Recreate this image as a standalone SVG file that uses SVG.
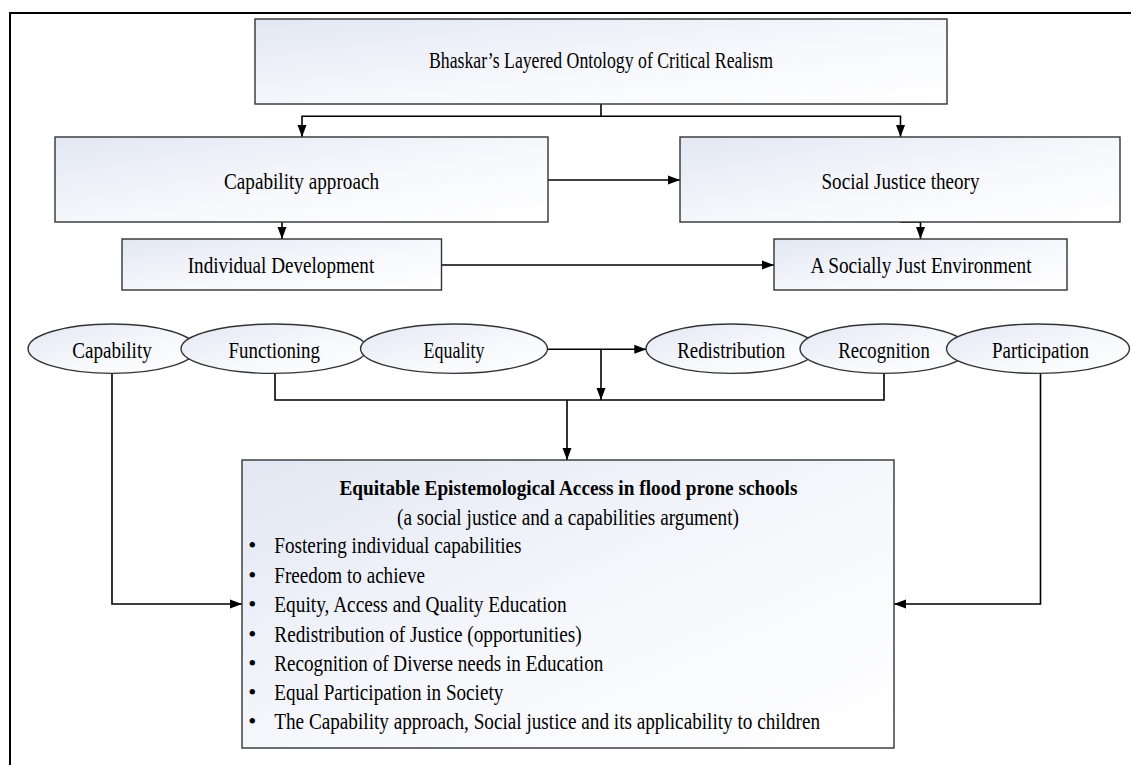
<svg xmlns="http://www.w3.org/2000/svg" width="1131" height="765" viewBox="0 0 1131 765">
<defs>
<linearGradient id="g" x1="0" y1="0" x2="1" y2="1">
<stop offset="0" stop-color="#e2e7f3"/>
<stop offset="0.55" stop-color="#f7f8fc"/>
<stop offset="1" stop-color="#ffffff"/>
</linearGradient>
<marker id="ah" viewBox="0 0 12 10" refX="12" refY="5" markerWidth="12" markerHeight="10" markerUnits="userSpaceOnUse" orient="auto">
<path d="M0,0.5 L12,5 L0,9.5 z" fill="#000"/>
</marker>
<style>
.box{fill:url(#g);stroke:#333;stroke-width:1.4}
.t{font-family:"Liberation Serif","Times New Roman",serif;font-size:23px;fill:#000}
.c{text-anchor:middle}
.b{font-weight:bold;font-size:22px}
.ln{fill:none;stroke:#000;stroke-width:1.6}
.ar{marker-end:url(#ah)}
.frame{fill:none;stroke:#000;stroke-width:2}
</style>
</defs>
<rect width="1131" height="765" fill="#fff"/>
<path class="frame" d="M10,765 V13 H1131"/>

<g id="connectors">
<path class="ln" d="M601,104 V116.3"/>
<path class="ln ar" d="M601,116.3 H302 V137"/>
<path class="ln ar" d="M601,116.3 H900.5 V137"/>
<path class="ln ar" d="M548,180 H680"/>
<path class="ln ar" d="M282,222 V239"/>
<path class="ln ar" d="M900.5,222 H920.5 V239"/>
<path class="ln ar" d="M441.5,265 H774"/>
<path class="ln ar" d="M547.5,349.3 H646.3"/>
<path class="ln ar" d="M601,349.3 V400"/>
<path class="ln" d="M275,373.4 V400 H884 V373.4"/>
<path class="ln ar" d="M567,400 V460"/>
<path class="ln ar" d="M112,373.4 V604 H242"/>
<path class="ln ar" d="M1040.5,373.4 V604 H894"/>
</g>

<g id="bhaskar">
<rect class="box" x="255" y="19" width="692" height="85"/>
<text class="t c" x="601" y="68" textLength="344" lengthAdjust="spacingAndGlyphs">Bhaskar’s Layered Ontology of Critical Realism</text>
</g>
<g id="capability-approach">
<rect class="box" x="55" y="137" width="493" height="85"/>
<text class="t c" x="301.5" y="188.5" textLength="155" lengthAdjust="spacingAndGlyphs">Capability approach</text>
</g>
<g id="social-justice-theory">
<rect class="box" x="680" y="137" width="440" height="85"/>
<text class="t c" x="900.5" y="188.5" textLength="158" lengthAdjust="spacingAndGlyphs">Social Justice theory</text>
</g>
<g id="individual-development">
<rect class="box" x="122" y="239" width="319.5" height="51"/>
<text class="t c" x="281" y="273" textLength="186.5" lengthAdjust="spacingAndGlyphs">Individual Development</text>
</g>
<g id="socially-just-environment">
<rect class="box" x="774" y="239" width="293" height="51"/>
<text class="t c" x="921" y="273" textLength="221" lengthAdjust="spacingAndGlyphs">A Socially Just Environment</text>
</g>

<g id="capability">
<ellipse class="box" cx="112" cy="348.7" rx="84" ry="24.7"/>
<text class="t c" x="112" y="357.5" textLength="79.5" lengthAdjust="spacingAndGlyphs">Capability</text>
</g>
<g id="functioning">
<ellipse class="box" cx="274" cy="348.7" rx="93" ry="24.7"/>
<text class="t c" x="274.3" y="357.5" textLength="91.4" lengthAdjust="spacingAndGlyphs">Functioning</text>
</g>
<g id="equality">
<ellipse class="box" cx="454" cy="348.7" rx="93.5" ry="24.7"/>
<text class="t c" x="454" y="357.5" textLength="61" lengthAdjust="spacingAndGlyphs">Equality</text>
</g>
<g id="redistribution">
<ellipse class="box" cx="731" cy="348.7" rx="85" ry="24.7"/>
<text class="t c" x="731.2" y="357.5" textLength="108" lengthAdjust="spacingAndGlyphs">Redistribution</text>
</g>
<g id="recognition">
<ellipse class="box" cx="884" cy="348.7" rx="84" ry="24.7"/>
<text class="t c" x="884" y="357.5" textLength="91.5" lengthAdjust="spacingAndGlyphs">Recognition</text>
</g>
<g id="participation">
<ellipse class="box" cx="1038" cy="348.7" rx="91.5" ry="24.7"/>
<text class="t c" x="1040.5" y="357.5" textLength="97" lengthAdjust="spacingAndGlyphs">Participation</text>
</g>

<g id="equitable-access">
<rect class="box" x="242" y="460" width="652" height="288"/>
<text class="t c b" x="568.4" y="494.5" textLength="458" lengthAdjust="spacingAndGlyphs">Equitable Epistemological Access in flood prone schools</text>
<text class="t c" x="568" y="524.5" textLength="342" lengthAdjust="spacingAndGlyphs">(a social justice and a capabilities argument)</text>
<g class="t">
<text class="c" x="252.3" y="553.3">•</text>
<text x="274.3" y="553.3" textLength="247.3" lengthAdjust="spacingAndGlyphs">Fostering individual capabilities</text>
<text class="c" x="252.3" y="582.7">•</text>
<text x="274.3" y="582.7" textLength="150.7" lengthAdjust="spacingAndGlyphs">Freedom to achieve</text>
<text class="c" x="252.3" y="612.3">•</text>
<text x="274.3" y="612.3" textLength="292.3" lengthAdjust="spacingAndGlyphs">Equity, Access and Quality Education</text>
<text class="c" x="252.3" y="641.7">•</text>
<text x="274.3" y="641.7" textLength="307.3" lengthAdjust="spacingAndGlyphs">Redistribution of Justice (opportunities)</text>
<text class="c" x="252.3" y="670.7">•</text>
<text x="274.3" y="670.7" textLength="329" lengthAdjust="spacingAndGlyphs">Recognition of Diverse needs in Education</text>
<text class="c" x="252.3" y="700">•</text>
<text x="274.3" y="700" textLength="229" lengthAdjust="spacingAndGlyphs">Equal Participation in Society</text>
<text class="c" x="252.3" y="729.3">•</text>
<text x="274.3" y="729.3" textLength="545.8" lengthAdjust="spacingAndGlyphs">The Capability approach, Social justice and its applicability to children</text>
</g>
</g>
</svg>
